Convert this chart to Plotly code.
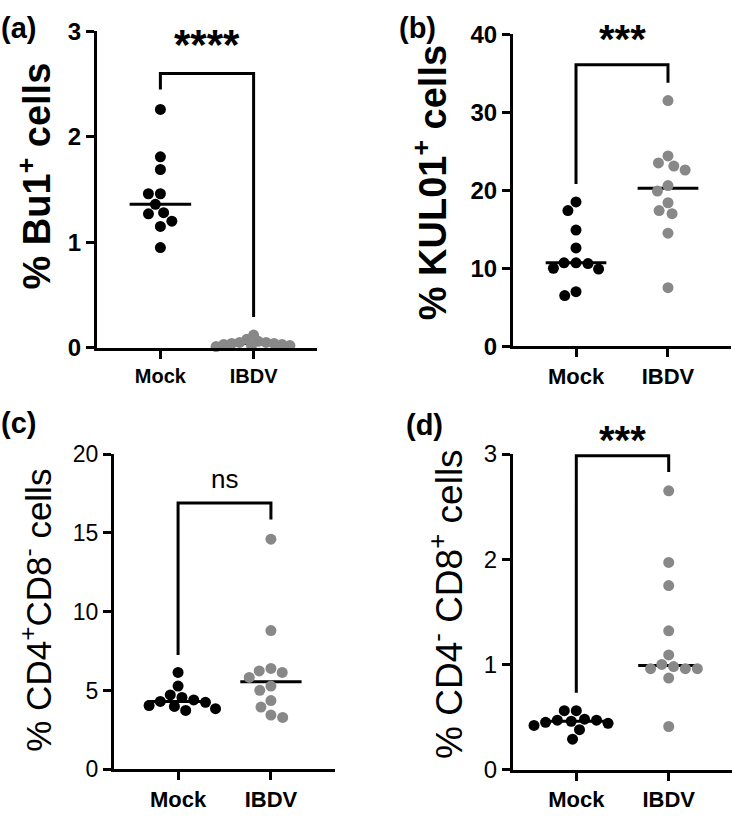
import plotly.graph_objects as go
import numpy as np

# ---------------- data ----------------
groups = ["Mock", "IBDV"]

a_mock = [2.26, 1.81, 1.69, 1.46, 1.46, 1.36, 1.28, 1.27, 1.20, 1.15, 0.95]
a_ibdv = [0.12, 0.08, 0.06, 0.05, 0.05, 0.04, 0.04, 0.03, 0.03, 0.02, 0.02, 0.01]
b_mock = [18.5, 17.4, 14.9, 12.6, 10.7, 10.6, 10.7, 10.0, 9.9, 7.0, 6.5]
b_ibdv = [31.5, 24.4, 23.5, 23.1, 22.6, 20.6, 19.9, 18.4, 17.4, 17.0, 14.5, 7.5]
c_mock = [6.15, 5.28, 4.72, 4.56, 4.40, 4.31, 4.25, 4.05, 3.99, 3.85, 3.74]
c_ibdv = [14.6, 8.8, 6.40, 6.24, 6.15, 5.83, 5.28, 5.01, 4.36, 3.95, 3.44, 3.29]
d_mock = [0.56, 0.56, 0.48, 0.47, 0.47, 0.46, 0.45, 0.44, 0.42, 0.38, 0.29]
d_ibdv = [2.65, 1.97, 1.75, 1.32, 1.09, 1.00, 0.98, 0.96, 0.96, 0.96, 0.87, 0.41]

# significance brackets: [top, left-leg bottom, right-leg bottom]
a_bracket = [2.60, 2.45, 0.29]
b_bracket = [36.1, 20.8, 33.8]
c_bracket = [16.9, 7.26, 15.85]
d_bracket = [2.985, 0.73, 2.83]

a_sig, b_sig, c_sig, d_sig = "****", "***", "ns", "***"

a_ticks = [0, 1, 2, 3]
b_ticks = [0, 10, 20, 30, 40]
c_ticks = [0, 5, 10, 15, 20]
d_ticks = [0, 1, 2, 3]

# ---------------- layout helpers ----------------
W, H = 735, 822
FONT = "Liberation Sans, Arial, sans-serif"
GREY = "#888888"


def swarm(vals, ypx, xpx, d=12.0):
    order = sorted(range(len(vals)), key=lambda i: -vals[i])
    placed = []
    offs = [0.0] * len(vals)
    for i in order:
        y = vals[i] * ypx
        cands = [0.0]
        for (px, py) in placed:
            dy = abs(y - py)
            if dy < d:
                dx = (d * d - dy * dy) ** 0.5
                cands += [px + dx, px - dx]
        best = 0.0
        for c in sorted(cands, key=lambda c: (round(abs(c), 6), c)):
            if all((c - px) ** 2 + (y - py) ** 2 >= d * d - 1e-6 for px, py in placed):
                best = c
                break
        placed.append((best, y))
        offs[i] = best / xpx
    return offs


panels = [
    dict(key="a", mock=a_mock, ibdv=a_ibdv, br=a_bracket, sig=a_sig, ticks=a_ticks,
         xpx=(97, 317), ypx=(345, 18), xr=[-0.68, 1.68], sw=(12, 8),
         title="<b>% Bu1<sup>+</sup> cells</b>", tpos=(35, 168), tsize=38,
         bold=True, ticksize=24, catsize=20, sigpy=32, sigsize=42,
         lab="(a)", lpos=(18, 14)),
    dict(key="b", mock=b_mock, ibdv=b_ibdv, br=b_bracket, sig=b_sig, ticks=b_ticks,
         xpx=(513, 731), ypx=(343.5, 21), xr=[-0.685, 1.685], sw=(12, 12),
         title="<b>% KUL01<sup>+</sup> cells</b>", tpos=(430, 175), tsize=38,
         bold=True, ticksize=24, catsize=22, sigpy=26, sigsize=40,
         lab="(b)", lpos=(417, 14)),
    dict(key="c", mock=c_mock, ibdv=c_ibdv, br=c_bracket, sig=c_sig, ticks=c_ticks,
         xpx=(114, 335), ypx=(781, 455), xr=[-0.69, 1.69], sw=(12, 12),
         title="% CD4<sup>+</sup>CD8<sup>-</sup> cells", tpos=(36, 617), tsize=35,
         bold=False, ticksize=23, catsize=22, sigpy=481, sigsize=26,
         lab="(c)", lpos=(18, 423)),
    dict(key="d", mock=d_mock, ibdv=d_ibdv, br=d_bracket, sig=d_sig, ticks=d_ticks,
         xpx=(513, 732), ypx=(781.3, 455), xr=[-0.685, 1.685], sw=(12, 12),
         title="% CD4<sup>-</sup> CD8<sup>+</sup> cells", tpos=(447, 610), tsize=37,
         bold=False, ticksize=24, catsize=22, sigpy=440, sigsize=40,
         lab="(d)", lpos=(424, 425)),
]

fig = go.Figure()
annotations = []
layout_axes = {}

for n, p in enumerate(panels, start=1):
    xa = "x" if n == 1 else f"x{n}"
    ya = "y" if n == 1 else f"y{n}"
    xname = "xaxis" if n == 1 else f"xaxis{n}"
    yname = "yaxis" if n == 1 else f"yaxis{n}"
    ymax = p["ticks"][-1]
    x0, x1 = p["xpx"]
    yb, yt = p["ypx"]
    xpx_per = (x1 - x0) / (p["xr"][1] - p["xr"][0])
    ypx_per = (yb - yt) / ymax

    # bracket
    top, lb, rb = p["br"]
    fig.add_trace(go.Scatter(x=[0, 0, 1, 1], y=[lb, top, top, rb], mode="lines",
                             line=dict(color="black", width=3), xaxis=xa, yaxis=ya,
                             hoverinfo="skip", showlegend=False))
    # medians
    for gi, vals in enumerate([p["mock"], p["ibdv"]]):
        med = float(np.median(vals))
        fig.add_trace(go.Scatter(x=[gi - 0.33, gi + 0.33], y=[med, med], mode="lines",
                                 line=dict(color="black", width=3), xaxis=xa, yaxis=ya,
                                 hoverinfo="skip", showlegend=False))
    # points
    for gi, (vals, col) in enumerate([(p["mock"], "black"), (p["ibdv"], GREY)]):
        offs = swarm(vals, ypx_per, xpx_per, d=p["sw"][gi])
        fig.add_trace(go.Scatter(x=[gi + o for o in offs], y=vals, mode="markers",
                                 marker=dict(color=col, size=11, line=dict(width=0)),
                                 cliponaxis=False, xaxis=xa, yaxis=ya,
                                 showlegend=False))

    weight = "bold" if p["bold"] else "normal"
    layout_axes[xname] = dict(
        domain=[x0 / W, x1 / W], range=p["xr"], anchor=ya,
        tickvals=[0, 1], ticktext=groups, ticks="outside", ticklen=8, tickwidth=3,
        tickcolor="black", showline=True, linewidth=3, linecolor="black",
        showgrid=False, zeroline=False, fixedrange=True,
        tickfont=dict(family=FONT, size=p["catsize"], color="black", weight="bold"))
    layout_axes[yname] = dict(
        domain=[1 - yb / H, 1 - yt / H], range=[0, ymax], anchor=xa,
        tickvals=p["ticks"], ticks="outside", ticklen=8, tickwidth=3,
        tickcolor="black", showline=True, linewidth=3, linecolor="black",
        showgrid=False, zeroline=False, fixedrange=True,
        tickfont=dict(family=FONT, size=p["ticksize"], color="black", weight=weight))

    annotations.append(dict(text=p["title"], x=p["tpos"][0] / W, y=1 - p["tpos"][1] / H,
                            xref="paper", yref="paper", textangle=-90, showarrow=False,
                            xanchor="center", yanchor="middle",
                            font=dict(family=FONT, size=p["tsize"], color="black")))
    sig_txt = p["sig"] if p["sig"] == "ns" else f"<b>{p['sig']}</b>"
    annotations.append(dict(text=sig_txt, x=0.5, y=1 - p["sigpy"] / H, xref=xa, yref="paper",
                            showarrow=False, xanchor="center", yanchor="middle",
                            font=dict(family=FONT, size=p["sigsize"], color="black")))
    annotations.append(dict(text=f"<b>{p['lab']}</b>", x=p["lpos"][0] / W, y=1 - p["lpos"][1] / H,
                            xref="paper", yref="paper", showarrow=False,
                            xanchor="center", yanchor="middle",
                            font=dict(family=FONT, size=29, color="black")))

fig.update_layout(width=W, height=H, margin=dict(l=0, r=0, t=0, b=0),
                  paper_bgcolor="white", plot_bgcolor="white",
                  annotations=annotations, showlegend=False, **layout_axes)

fig.write_html("out.html", config={"displayModeBar": False})
